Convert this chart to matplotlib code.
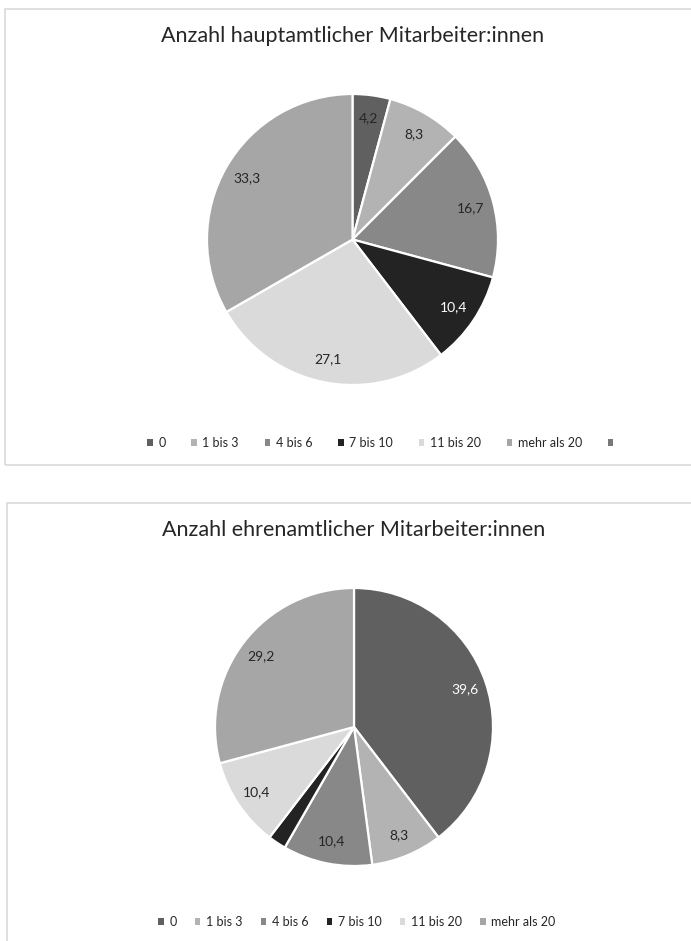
import matplotlib

matplotlib.use("Agg")
import matplotlib.pyplot as plt
from matplotlib.patches import Patch, Rectangle

plt.rcParams["font.family"] = ["Lato", "DejaVu Sans"]

W, H = 691, 941

categories = ["0", "1 bis 3", "4 bis 6", "7 bis 10", "11 bis 20", "mehr als 20"]
colors = ["#606060", "#b3b3b3", "#888888", "#232323", "#dadada", "#a6a6a6"]
extra_color = "#787878"

haupt_title = "Anzahl hauptamtlicher Mitarbeiter:innen"
haupt_values = [4.2, 8.3, 16.7, 10.4, 27.1, 33.3]
haupt_labels = ["4,2", "8,3", "16,7", "10,4", "27,1", "33,3"]
haupt_white = [False, False, False, True, False, False]

ehren_title = "Anzahl ehrenamtlicher Mitarbeiter:innen"
ehren_values = [39.6, 8.3, 10.4, 2.1, 10.4, 29.2]
ehren_labels = ["39,6", "8,3", "10,4", "", "10,4", "29,2"]
ehren_white = [True, False, False, False, False, False]


def px_axes(fig, cx, cy, r):
    pad = 1.03
    s = 2 * r * pad
    return fig.add_axes([(cx - s / 2) / W, 1 - (cy + s / 2) / H, s / W, s / H])


def draw_chart(fig, box, title, title_y, center, radius, values, labels, white,
               legend_xy, colspace, extra):
    x0, y0, x1, y1 = box
    fig.patches.append(Rectangle((x0 / W, 1 - y1 / H), (x1 - x0) / W, (y1 - y0) / H,
                                 transform=fig.transFigure, fill=False,
                                 edgecolor="#d9d9d9", linewidth=1.2))
    fig.text(center[0] / W, 1 - title_y / H, title, ha="center", va="center",
             fontsize=15.5, color="#262626")

    ax = px_axes(fig, center[0], center[1], radius)
    wedges, texts = ax.pie(values, labels=labels, colors=colors, startangle=90,
                           counterclock=False, labeldistance=0.84,
                           wedgeprops=dict(edgecolor="white", linewidth=1.6),
                           textprops=dict(fontsize=10))
    for t, w in zip(texts, white):
        t.set_ha("center")
        t.set_va("center")
        t.set_color("white" if w else "#262626")
    ax.set_xlim(-1.03, 1.03)
    ax.set_ylim(-1.03, 1.03)
    ax.set_aspect("equal")

    handles = [Patch(facecolor=c, edgecolor="none") for c in colors]
    names = list(categories)
    if extra:
        handles.append(Patch(facecolor=extra_color, edgecolor="none"))
        names.append("")
    fig.legend(handles, names, loc="center", ncol=len(names),
               bbox_to_anchor=(legend_xy[0] / W, 1 - legend_xy[1] / H), frameon=False,
               fontsize=9, handlelength=0.45, handleheight=0.45, handletextpad=0.45,
               columnspacing=colspace, labelcolor="#262626")


fig = plt.figure(figsize=(W / 100, H / 100), dpi=100)

draw_chart(fig, (5, 9, 700, 465), haupt_title, 36, (352.5, 239.5), 145.5,
           haupt_values, haupt_labels, haupt_white, (383, 443), 2.05, True)
draw_chart(fig, (7, 503, 700, 960), ehren_title, 530, (354, 727), 139,
           ehren_values, ehren_labels, ehren_white, (357, 922), 1.45, False)

fig.savefig("out.png", dpi=100)
